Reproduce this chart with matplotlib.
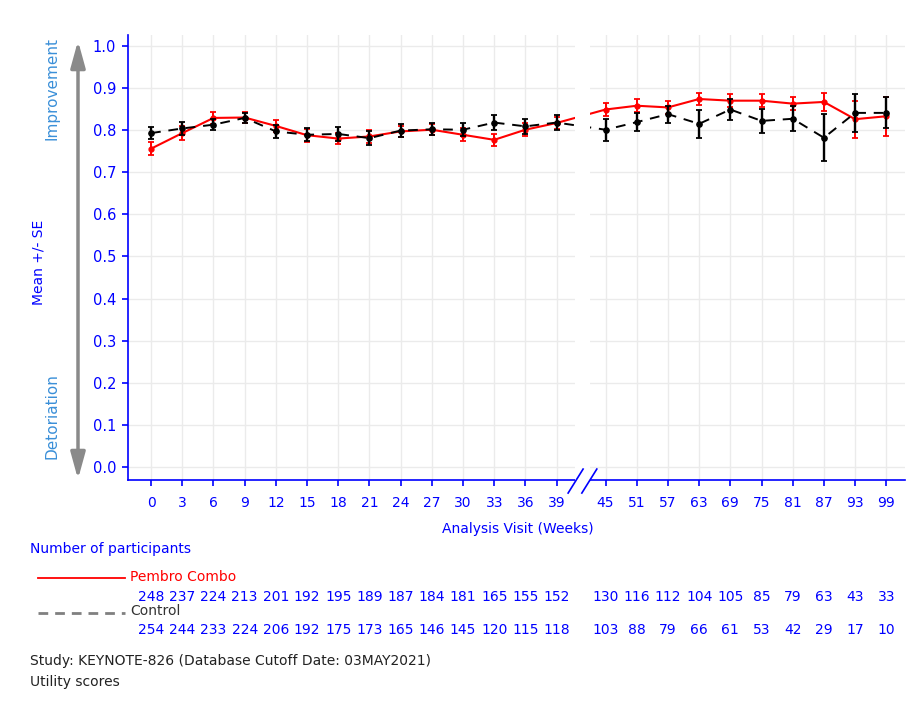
import numpy as np
import matplotlib
matplotlib.use('Agg')
import matplotlib.pyplot as plt
import matplotlib.transforms as mtransforms
from matplotlib.patches import Rectangle, FancyArrowPatch
from matplotlib.lines import Line2D

# visit weeks shown on the x axis (axis is broken between 39 and 45)
weeks = [0, 3, 6, 9, 12, 15, 18, 21, 24, 27, 30, 33, 36, 39,
         45, 51, 57, 63, 69, 75, 81, 87, 93, 99]

# mean utility score and SE
pembro_mean = [0.756, 0.793, 0.829, 0.830, 0.810, 0.788, 0.780, 0.785, 0.797, 0.801,
               0.789, 0.777, 0.801, 0.817, 0.849, 0.858, 0.854, 0.874, 0.870, 0.870,
               0.863, 0.867, 0.826, 0.833]
pembro_se = [0.016, 0.017, 0.014, 0.012, 0.014, 0.015, 0.014, 0.015, 0.014, 0.013,
             0.015, 0.015, 0.016, 0.015, 0.016, 0.016, 0.015, 0.015, 0.015, 0.016,
             0.015, 0.022, 0.044, 0.046]
control_mean = [0.793, 0.804, 0.813, 0.829, 0.797, 0.789, 0.791, 0.781, 0.799, 0.802,
                0.801, 0.818, 0.809, 0.818, 0.801, 0.819, 0.838, 0.815, 0.849, 0.822,
                0.827, 0.782, 0.841, 0.841]
control_se = [0.014, 0.016, 0.013, 0.012, 0.015, 0.015, 0.016, 0.017, 0.015, 0.014,
              0.016, 0.017, 0.017, 0.018, 0.026, 0.021, 0.020, 0.033, 0.026, 0.029,
              0.030, 0.056, 0.045, 0.037]

# number of participants per visit
pembro_n = [248, 237, 224, 213, 201, 192, 195, 189, 187, 184, 181, 165, 155, 152,
            130, 116, 112, 104, 105, 85, 79, 63, 43, 33]
control_n = [254, 244, 233, 224, 206, 192, 175, 173, 165, 146, 145, 120, 115, 118,
             103, 88, 79, 66, 61, 53, 42, 29, 17, 10]

BLUE = 'blue'
LIGHTBLUE = '#3a8fd8'
W, H = 914, 704

fig = plt.figure(figsize=(W / 100, H / 100), dpi=100)
ax = fig.add_axes([128 / W, 1 - 480 / H, (905 - 128) / W, (480 - 35) / H])

# evenly spaced categories, with a small jump at the axis break
pos = np.r_[np.arange(14), 14.57 + np.arange(10)]

ax.errorbar(pos, pembro_mean, yerr=pembro_se, color='red', lw=1.5, marker='o', ms=3.5,
            capsize=2.5, elinewidth=1.4, capthick=1.3, zorder=3)
ax.errorbar(pos, control_mean, yerr=control_se, color='black', ls=(0, (5, 4)), lw=1.4,
            marker='o', ms=3.8, capsize=2.5, elinewidth=1.7, capthick=1.3, zorder=4)

ax.set_xlim(-0.74, 24.17)
ax.set_ylim(-0.031, 1.026)
ax.set_xticks(pos)
ax.set_xticklabels([str(w) for w in weeks])
yt = np.round(np.arange(0, 1.01, 0.1), 1)
ax.set_yticks(yt)
ax.set_yticklabels(['%.1f' % v for v in yt])

for s in ['top', 'right']:
    ax.spines[s].set_visible(False)
for s in ['left', 'bottom']:
    ax.spines[s].set_color(BLUE)
    ax.spines[s].set_linewidth(1.2)
ax.tick_params(colors=BLUE, length=4.5, width=1.2, labelsize=10.5)
ax.tick_params(axis='x', pad=7, labelsize=10)
ax.tick_params(axis='y', pad=4)
ax.grid(color='#ebebeb', lw=1.0)
ax.set_axisbelow(True)

# axis break: blank strip plus the // marks
ax.add_patch(Rectangle((13.59, -0.045), 0.48, 1.08, facecolor='white', edgecolor='none',
                       zorder=5, clip_on=False))
ax.plot([13.37, 13.85], [-0.062, -0.005], color=BLUE, lw=1.2, clip_on=False, zorder=6)
ax.plot([13.81, 14.29], [-0.062, -0.005], color=BLUE, lw=1.2, clip_on=False, zorder=6)

fig.text(518 / W, 1 - 529 / H, 'Analysis Visit (Weeks)', color=BLUE, fontsize=10,
         ha='center', va='center')

# y side labels and the double arrow
fig.text(52 / W, 1 - 88 / H, 'Improvement', color=LIGHTBLUE, fontsize=11, rotation=90,
         ha='center', va='center')
fig.text(52 / W, 1 - 416 / H, 'Detoriation', color=LIGHTBLUE, fontsize=11, rotation=90,
         ha='center', va='center')
fig.text(38 / W, 1 - 262 / H, 'Mean +/- SE', color=BLUE, fontsize=10, rotation=90,
         ha='center', va='center')
arrow = FancyArrowPatch((78 / W, 1 - 38 / H), (78 / W, 1 - 482 / H),
                        transform=fig.transFigure,
                        arrowstyle='<|-|>,head_length=0.8,head_width=0.22',
                        mutation_scale=20, color='#8a8a8a', lw=2.5)
fig.add_artist(arrow)

# participants table
fig.text(30 / W, 1 - 549 / H, 'Number of participants', color=BLUE, fontsize=10, va='center')
fig.add_artist(Line2D([38 / W, 125 / W], [1 - 578 / H] * 2, transform=fig.transFigure,
                      color='red', lw=1.3))
fig.text(130 / W, 1 - 577 / H, 'Pembro Combo', color='red', fontsize=10, va='center')
fig.add_artist(Line2D([38 / W, 125 / W], [1 - 613 / H] * 2, transform=fig.transFigure,
                      color='#808080', lw=2, ls=(0, (3.5, 2.5))))
fig.text(130 / W, 1 - 611 / H, 'Control', color='#333333', fontsize=10, va='center')

trans = mtransforms.blended_transform_factory(ax.transData, fig.transFigure)
for p, n in zip(pos, pembro_n):
    fig.text(p, 1 - 597 / H, str(n), transform=trans, ha='center', va='center',
             color=BLUE, fontsize=10)
for p, n in zip(pos, control_n):
    fig.text(p, 1 - 630 / H, str(n), transform=trans, ha='center', va='center',
             color=BLUE, fontsize=10)

fig.text(30 / W, 1 - 661 / H, 'Study: KEYNOTE-826 (Database Cutoff Date: 03MAY2021)',
         color='#222222', fontsize=10, va='center')
fig.text(30 / W, 1 - 682 / H, 'Utility scores', color='#222222', fontsize=10, va='center')

fig.savefig('out.png', dpi=100)
